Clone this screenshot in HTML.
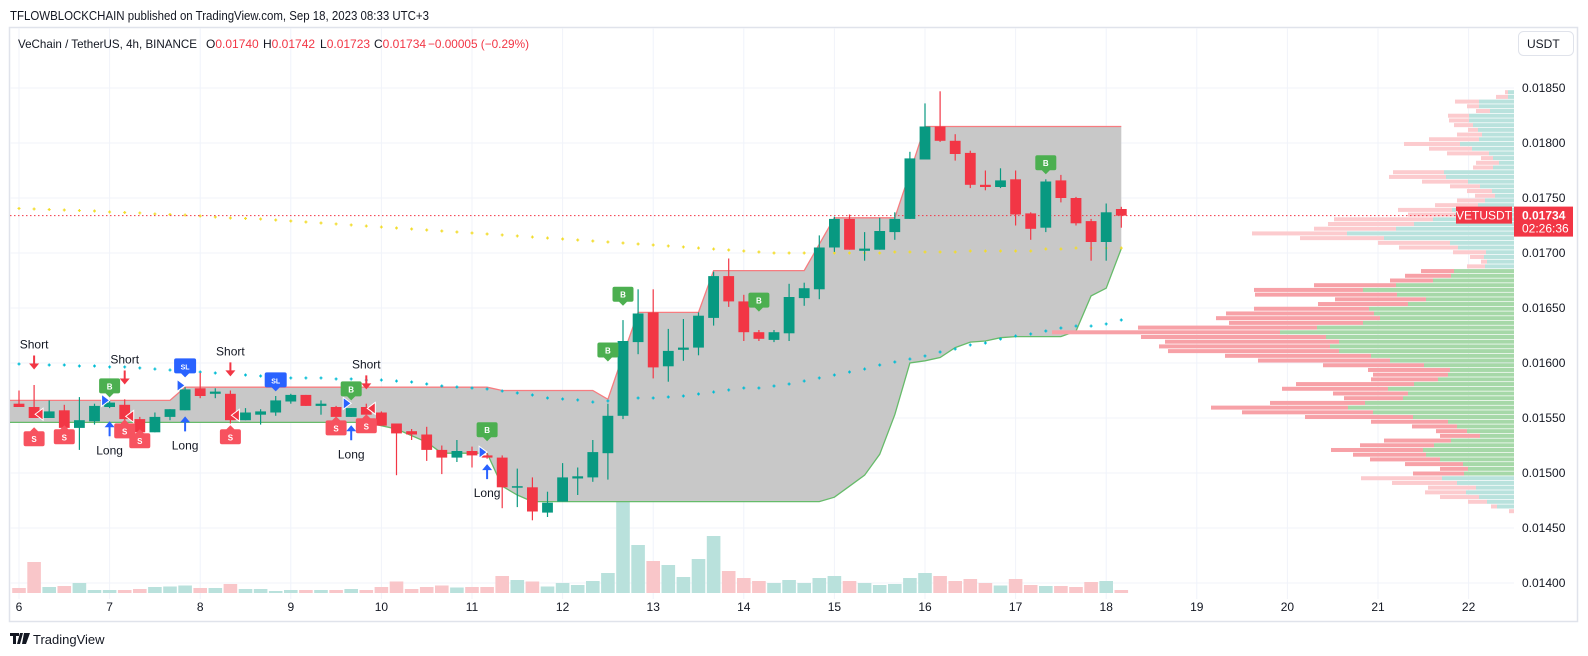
<!DOCTYPE html>
<html><head><meta charset="utf-8">
<style>
html,body{margin:0;padding:0;background:#fff;}
svg{display:block;font-family:"Liberation Sans",Arial,sans-serif;}
</style></head>
<body>
<svg id="chart" width="1588" height="656" viewBox="0 0 1588 656" xmlns="http://www.w3.org/2000/svg">
<rect x="0" y="0" width="1588" height="656" fill="#ffffff"/>
<text x="10" y="20" font-size="13" fill="#131722" textLength="419" lengthAdjust="spacingAndGlyphs">TFLOWBLOCKCHAIN published on TradingView.com, Sep 18, 2023 08:33 UTC+3</text>
<rect x="9.5" y="27.5" width="1568" height="594" fill="none" stroke="#e0e3eb" stroke-width="1.5"/>
<g id="grid"></g>
<g id="vol"></g>
<g id="band"></g>
<g id="prof"></g>
<g id="dots"></g>
<g id="candles"></g>
<g id="marks"></g>
<g id="axes"></g>
<g font-size="12">
<text x="18" y="48" fill="#131722" textLength="179" lengthAdjust="spacingAndGlyphs">VeChain / TetherUS, 4h, BINANCE</text>
<text x="206" y="48" fill="#131722">O<tspan fill="#f23645">0.01740</tspan></text>
<text x="263" y="48" fill="#131722">H<tspan fill="#f23645">0.01742</tspan></text>
<text x="320" y="48" fill="#131722">L<tspan fill="#f23645">0.01723</tspan></text>
<text x="374" y="48" fill="#131722">C<tspan fill="#f23645">0.01734</tspan></text>
<text x="428" y="48" fill="#f23645" textLength="101" lengthAdjust="spacingAndGlyphs">−0.00005 (−0.29%)</text>
</g>
<g>
<rect x="1518.5" y="31.5" width="55" height="24" rx="5" fill="#fff" stroke="#e0e3eb"/>
<text x="1527" y="48" font-size="12" fill="#131722">USDT</text>
</g>
<g>
<path d="M10 633h9v3h-3v8h-3v-8h-3z M20 633h3l-3 11h-3z M24 633h6l-4 11h-4z" fill="#131722"/>
<text x="33" y="644" font-size="13" fill="#131722">TradingView</text>
</g>
</svg>
<script>
// ---- data ----
const openV=[.01563,.01560,.01550,.01557,.01541,.01547,.01560,.01562,.01549,.01537,.01551,.01557,.01577,.01572,.01572,.01548,.01553,.01555,.01565,.01571,.01561,.01560,.01551,.01560,.01555,.01545,.01538,.01535,.01521,.01514,.01520,.01516,.01514,.01487,.01487,.01464,.01474,.01495,.01496,.01518,.01552,.01619,.01646,.01597,.01612,.01614,.01641,.01679,.01656,.01628,.01621,.01627,.01659,.01667,.01705,.01731,.01702,.01703,.01719,.01731,.01785,.01815,.01802,.01791,.01762,.01760,.01767,.01736,.01723,.01766,.01750,.01729,.01710,.01740];
const highV=[.01575,.01580,.01566,.01562,.01569,.01563,.01566,.01567,.01551,.01555,.01558,.01578,.01591,.01577,.01575,.01559,.01558,.01570,.01572,.01571,.01566,.01561,.01559,.01563,.01556,.01545,.01540,.01542,.01525,.01530,.01524,.01518,.01516,.01504,.01496,.01483,.01509,.01505,.01530,.01563,.01639,.01667,.01667,.01631,.01640,.01646,.01683,.01695,.01662,.01630,.01630,.01672,.01673,.01716,.01733,.01735,.01719,.01732,.01737,.01792,.01836,.01847,.01808,.01793,.01775,.01777,.01775,.01737,.01767,.01771,.01751,.01731,.01745,.01742];
const lowV=[.01560,.01550,.01550,.01541,.01521,.01544,.01559,.01545,.01537,.01537,.01548,.01557,.01568,.01568,.01545,.01548,.01544,.01552,.01563,.01561,.01553,.01551,.01551,.01553,.01543,.01498,.01530,.01511,.01499,.01510,.01505,.01513,.01468,.01469,.01457,.01460,.01474,.01480,.01492,.01494,.01549,.01608,.01586,.01583,.01602,.01607,.01634,.01651,.01620,.01620,.01619,.01620,.01652,.01658,.01701,.01703,.01693,.01703,.01712,.01731,.01785,.01801,.01784,.01759,.01757,.01759,.01725,.01712,.01719,.01746,.01725,.01693,.01693,.01723];
const closeV=[.01560,.01550,.01556,.01541,.01548,.01561,.01564,.01549,.01537,.01551,.01558,.01576,.01570,.01574,.01548,.01555,.01556,.01566,.01571,.01561,.01563,.01551,.01559,.01553,.01543,.01536,.01535,.01521,.01514,.01520,.01516,.01514,.01487,.01488,.01465,.01473,.01496,.01497,.01519,.01552,.01620,.01645,.01596,.01611,.01614,.01643,.01679,.01656,.01628,.01622,.01628,.01660,.01668,.01705,.01731,.01703,.01704,.01720,.01731,.01786,.01815,.01802,.01790,.01762,.01760,.01766,.01735,.01722,.01765,.01750,.01727,.01710,.01737,.01734];
const volumeV=[5,31,6,7,10,3,3,3,4,6,6.5,7.5,5,5,9,4,4,2,3,3,3,3,4,3,6,11.5,4,6,7.5,5.5,6,6,17,13,11.5,6.5,10,8,12,20,145,48,32,28,16,34,57,22,15,12,10,13,10,15,17,12,10,8,9,15,20,17,12,14,10,7.5,14,8,7,7,6,11,12,3];
const bandUpper=[.01566,.01566,.01566,.01566,.01566,.01566,.01566,.01566,.01566,.01566,.01566,.01578,.01578,.01578,.01578,.01578,.01578,.01578,.01578,.01578,.01578,.01578,.01578,.01578,.01578,.01578,.01578,.01578,.01578,.01578,.01578,.01578,.01575,.01575,.01575,.01575,.01575,.01575,.01575,.01567,.01607,.01646,.01646,.01646,.01646,.01646,.01684,.01684,.01684,.01684,.01684,.01684,.01684,.01708,.01732,.01732,.01732,.01732,.01732,.01773,.01815,.01815,.01815,.01815,.01815,.01815,.01815,.01815,.01815,.01815,.01815,.01815,.01815,.01815];
const bandLower=[.01546,.01546,.01546,.01546,.01546,.01546,.01546,.01546,.01546,.01546,.01546,.01546,.01546,.01546,.01546,.01546,.01546,.01546,.01546,.01546,.01546,.01546,.01546,.01546,.01543,.01540,.01534,.01528,.01518,.01518,.01518,.01518,.01488,.01480,.01474,.01474,.01474,.01474,.01474,.01474,.01474,.01474,.01474,.01474,.01474,.01474,.01474,.01474,.01474,.01474,.01474,.01474,.01474,.01474,.01478,.01488,.01498,.01517,.01553,.01600,.01602,.01605,.01614,.01619,.01620,.01623,.01624,.01624,.01624,.01624,.01629,.01661,.01668,.01704];
const cyanV=[.015991,.015991,.015982,.015982,.015973,.015973,.015964,.015964,.015955,.015945,.015936,.015927,.015918,.015909,.015900,.015891,.015882,.015873,.015864,.015864,.015864,.015855,.015855,.015845,.015845,.015836,.015827,.015809,.015791,.015782,.015773,.015764,.015745,.015727,.015709,.015682,.015673,.015664,.015645,.015655,.015664,.015682,.015682,.015691,.015700,.015718,.015736,.015755,.015773,.015773,.015791,.015809,.015836,.015864,.015891,.015918,.015945,.015982,.016009,.016036,.016064,.016100,.016127,.016164,.016182,.016218,.016245,.016264,.016291,.016318,.016336,.016336,.016355,.016391];
const yellowV=[.017405,.017400,.017395,.017391,.017386,.017382,.017373,.017368,.017364,.017355,.017350,.017345,.017336,.017327,.017318,.017314,.017309,.017300,.017291,.017282,.017273,.017264,.017255,.017245,.017236,.017227,.017218,.017209,.017200,.017191,.017182,.017173,.017164,.017155,.017145,.017136,.017127,.017118,.017109,.017100,.017091,.017082,.017073,.017064,.017055,.017045,.017036,.017027,.017018,.017009,.017000,.017000,.017000,.017000,.017000,.017000,.017000,.017000,.017009,.017009,.017009,.017009,.017009,.017018,.017018,.017018,.017018,.017018,.017036,.017036,.017045,.017045,.017045,.017045];
const profTotal=[9,18,59,47,38,66,65,60,46,57,85,110,85,67,33,38,41,121,125,92,64,47,39,57,79,116,106,180,186,200,262,214,136,115,61,44,33,47,93,109,124,200,260,259,179,196,260,288,298,285,376,462,373,349,355,346,289,256,191,146,141,143,218,232,181,170,244,303,272,209,143,102,78,74,130,154,183,161,144,109,74,101,153,122,86,89,74,46,23,5];
const profUp=[6,6,35,35,24,45,45,41,36,32,35,54,42,25,21,15,21,70,68,46,34,22,19,29,36,62,59,81,100,118,167,130,64,56,28,30,27,29,60,63,81,118,151,117,88,106,145,140,134,151,197,234,188,175,184,175,143,124,90,64,66,76,100,126,106,111,149,166,141,101,66,57,47,34,63,80,91,88,74,51,46,50,72,57,38,48,35,27,17,0];
const priceTicks=[0.0185,0.018,0.0175,0.017,0.0165,0.016,0.0155,0.015,0.0145,0.014];
const dayTicks=[6,7,8,9,10,11,12,13,14,15,16,17,18,19,20,21,22];
const shortIdx=[1,7,14,23];
const shortPrice=[0.015941,0.015805,0.015878,0.01576];
const longIdx=[6,11,22,31];
const longPrice=[0.01547,0.015515,0.015434,0.015081];
const sellIdx=[1,3,7,8,14,21,23];
const sellPrice=[0.015416,0.015434,0.015488,0.015398,0.015434,0.015515,0.015534];
const exitIdx=[1,7,14,23];
const exitPrice=[0.015534,0.015515,0.015525,0.015588];
const entryIdx=[6,11,22,31];
const entryPrice=[0.01566,0.015796,0.015633,0.015189];
const buyIdx=[6,22,31,39,40,49,68];
const buyPrice=[0.015688,0.01566,0.015289,0.016014,0.016521,0.016467,0.017716];
const slIdx=[11,17];
const slPrice=[0.015869,0.015742];
const lastPrice=0.01734;

// ---- scales ----
const X0=19, DX=15.1, PROF_RIGHT=1514, VOL_BASE=593, PTOP=0.018462, PSTEP=0.0000428;
function xI(i){return X0+i*DX;}
function xD(d){return X0+(d-6)*6*DX;}
function pY(p){return 88+(0.0185-p)*110000;}
function vH(v){return v*1;}
const NS='http://www.w3.org/2000/svg';
function mk(parent,tag,attrs){const e=document.createElementNS(NS,tag);for(const k in attrs)e.setAttribute(k,attrs[k]);document.getElementById(parent).appendChild(e);return e;}
const GREEN='#089981', RED='#f23645';

// grid
dayTicks.forEach(d=>{
  const l=mk('grid','line',{x1:xD(d),x2:xD(d),y1:28,y2:599,stroke:'#f0f3fa','stroke-width':1});
  
  
});
priceTicks.forEach(p=>{
  const l=mk('grid','line',{x1:10,x2:PROF_RIGHT,y1:pY(p),y2:pY(p),stroke:'#f0f3fa','stroke-width':1});
  
  
});

// volume
volumeV.forEach((v,i)=>{
  const up=closeV[i]>=openV[i];
  const r=mk('vol','rect',{x:xI(i)-6.8,y:VOL_BASE-vH(v),width:13.6,height:vH(v),fill:up?'#b9e1dc':'#f9c6c9'});
  
  
});

// band
(function(){
  let up=[[10,pY(bandUpper[0])]], lo=[[10,pY(bandLower[0])]];
  bandUpper.forEach((p,i)=>up.push([xI(i),pY(p)]));
  bandLower.forEach((p,i)=>lo.push([xI(i),pY(p)]));
  const poly=up.concat(lo.slice().reverse()).map(a=>a.join(',')).join(' ');
  const f=mk('band','polygon',{points:poly,fill:'#c8c8c8'});
  
  
  const u=mk('band','polyline',{points:up.map(a=>a.join(',')).join(' '),fill:'none',stroke:'#f77c80','stroke-width':1.3});
  
  
  const l=mk('band','polyline',{points:lo.map(a=>a.join(',')).join(' '),fill:'none',stroke:'#66bb6a','stroke-width':1.3});
  
  
})();

// volume profile
profTotal.forEach((t,k)=>{
  const yc=pY(PTOP-k*PSTEP);
  const dark=(k>=38&&k<=81);
  const u=profUp[k];
  const rp=mk('prof','rect',{x:PROF_RIGHT-t,y:yc-2,width:t-u,height:4,fill:dark?'#f7a1a7':'#fccbce'});
  
  
  const rg=mk('prof','rect',{x:PROF_RIGHT-u,y:yc-2,width:u,height:4,fill:dark?'#a6d8a8':'#b9e2dd'});
  
  
});

// dotted indicators
function plus(arr,color,name){
  arr.forEach((p,i)=>{
    const x=xI(i), y=pY(p);
    const e=mk('dots','path',{d:`M${x-1.5} ${y}h3M${x} ${y-1.5}v3`,stroke:color,'stroke-width':1.2});
    
    
  });
}
plus(yellowV,'#f2dc2c','yellow-ma-point');
plus(cyanV,'#00bcd4','cyan-ma-point');

// last price line
(function(){
  const y=pY(lastPrice);
  const l=mk('dots','line',{x1:10,x2:1456,y1:y,y2:y,stroke:RED,'stroke-width':1,'stroke-dasharray':'1.5,2.5'});
  
  
})();

// candles
openV.forEach((o,i)=>{
  const c=closeV[i], up=c>=o, col=up?GREEN:RED, x=xI(i);
  const w=mk('candles','line',{x1:x,x2:x,y1:pY(highV[i]),y2:pY(lowV[i]),stroke:col,'stroke-width':1.2});
  
  
  const top=pY(Math.max(o,c)), h=Math.max(1.5,pY(Math.min(o,c))-top);
  const b=mk('candles','rect',{x:x-5.4,y:top,width:10.8,height:h,fill:col});
  
  
});

// markers
shortIdx.forEach((i,k)=>{
  const x=xI(i), y=pY(shortPrice[k]);
  const a=mk('marks','path',{d:`M${x-1} ${y-14}h2v8h4l-5 6l-5-6h4z`,fill:RED});
  
  
  const t=mk('marks','text',{x:x,y:y-21,'font-size':12,fill:'#131722','text-anchor':'middle'});
  t.textContent='Short';
  
  
});
longIdx.forEach((i,k)=>{
  const x=xI(i), y=pY(longPrice[k]);
  const a=mk('marks','path',{d:`M${x} ${y}l5 6h-4v9h-2v-9h-4z`,fill:'#2962ff'});
  
  
  const t=mk('marks','text',{x:x,y:y+33,'font-size':12,fill:'#131722','text-anchor':'middle'});
  t.textContent='Long';
  
  
});
sellIdx.forEach((i,k)=>{
  const x=xI(i), y=pY(sellPrice[k]);
  const a=mk('marks','path',{d:`M${x} ${y}l4 4h4.5q2 0 2 2v11q0 2-2 2h-17q-2 0-2-2v-11q0-2 2-2h4.5z`,fill:'#f7525f'});
  
  
  const t=mk('marks','text',{x:x,y:y+15,'font-size':8,'font-weight':'bold',fill:'#fff','text-anchor':'middle'});
  t.textContent='S';
  
  
});
buyIdx.forEach((i,k)=>{
  const x=xI(i), y=pY(buyPrice[k]);
  const a=mk('marks','path',{d:`M${x} ${y}l-4-4h-4.5q-2 0-2-2v-11q0-2 2-2h17q2 0 2 2v11q0 2-2 2h-4.5z`,fill:'#4caf50'});
  
  
  const t=mk('marks','text',{x:x,y:y-8,'font-size':8,'font-weight':'bold',fill:'#fff','text-anchor':'middle'});
  t.textContent='B';
  
  
});
slIdx.forEach((i,k)=>{
  const x=xI(i), y=pY(slPrice[k]);
  const a=mk('marks','path',{d:`M${x} ${y}l-4-4h-5q-2 0-2-2v-11q0-2 2-2h18q2 0 2 2v11q0 2-2 2h-5z`,fill:'#2962ff'});
  
  
  const t=mk('marks','text',{x:x,y:y-8,'font-size':7,'font-weight':'bold',fill:'#fff','text-anchor':'middle'});
  t.textContent='SL';
  
  
});
exitIdx.forEach((i,k)=>{
  const x=xI(i), y=pY(exitPrice[k]);
  const a=mk('marks','path',{d:`M${x+1} ${y}l8-6v12z`,fill:RED,stroke:'#fff','stroke-width':1});
  
  
});
entryIdx.forEach((i,k)=>{
  const x=xI(i), y=pY(entryPrice[k]);
  const a=mk('marks','path',{d:`M${x} ${y}l-8-6v12z`,fill:'#2962ff',stroke:'#fff','stroke-width':1});
  
  
});

// axes labels
priceTicks.forEach(p=>{
  const t=mk('axes','text',{x:1522,y:pY(p)+4,'font-size':12,fill:'#131722'});
  t.textContent=p.toFixed(5);
  
  
});
dayTicks.forEach(d=>{
  const t=mk('axes','text',{x:xD(d),y:611,'font-size':12,fill:'#131722','text-anchor':'middle'});
  t.textContent=String(d);
  
  
});
(function(){
  const y=pY(lastPrice);
  const b1=mk('axes','rect',{x:1456,y:y-9,width:56,height:17,fill:RED});
  
  
  const t1=mk('axes','text',{x:1484,y:y+4,'font-size':12,fill:'#fff','text-anchor':'middle'});
  t1.textContent='VETUSDT';
  
  
  const b2=mk('axes','rect',{x:1514,y:y-9,width:59,height:30,fill:RED});
  
  
  const t2=mk('axes','text',{x:1522,y:y+4,'font-size':12,'font-weight':'bold',fill:'#fff'});
  t2.textContent=lastPrice.toFixed(5);
  
  
  const t3=mk('axes','text',{x:1522,y:y+17,'font-size':12,fill:'#fff'});
  t3.textContent='02:26:36';
  
  
})();
</script>
</body></html>
